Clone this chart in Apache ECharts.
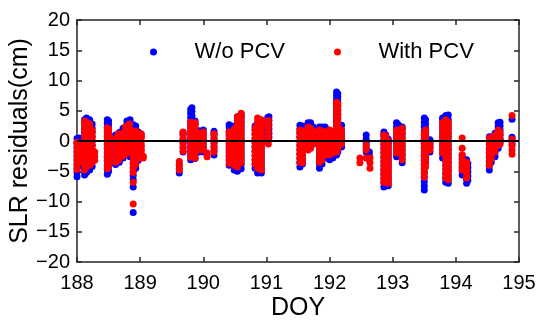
<!DOCTYPE html>
<html><head><meta charset="utf-8">
<script src="https://cdn.jsdelivr.net/npm/echarts@6/dist/echarts.min.js"></script>
<style>html,body{margin:0;padding:0;background:#fff}#c{width:539px;height:320px}</style>
</head><body><div id="c"></div>
<script>
const seriesNames = ['W/o PCV', 'With PCV'];
const xRange = [188, 195];
const yRange = [-20, 20];
const zeroLine = [[188, 0], [195, 0]];

// Each entry: [DOY, residual values (cm) ...]
const blueCols = [
[188.00,-5.9,-5.2,-4.5,-3.8,-3.1,-2.4,-1.7,-1.0,-0.3,0.4],
[188.03,-4.2,-3.5,-2.8,-2.1,-1.4,-0.7,0.0,0.5],
[188.12,-5.6,-4.9,-4.2,-3.5,-2.8,-2.1,-1.4,-0.7,0,0.7,1.4,2.1,2.8,3.5],
[188.15,-5.2,-4.5,-3.8,-3.1,-2.4,-1.7,-1,-0.3,0.4,1.1,1.8,2.5,3.2,3.8],
[188.20,-4.8,-4.1,-3.4,-2.7,-2,-1.3,-0.6,0.1,0.8,1.5,2.2,2.9,3.5],
[188.24,-4.2,-3.5,-2.8,-2.1,-1.4,-0.7,0,0.7,1.4,2.1,2.8],
[188.48,-5.5,-4.8,-4.1,-3.4,-2.7,-2,-1.3,-0.6,0.1,0.8,1.5,2.2,2.9,3.5],
[188.50,-5,-4.3,-3.6,-2.9,-2.2,-1.5,-0.8,-0.1,0.6,1.3,2,2.7,3.3],
[188.61,-3.9,-3.2,-2.5,-1.8,-1.1,-0.4,0.3,1.0],
[188.67,-3.5,-2.8,-2.1,-1.4,-0.7,0,0.7,1.4],
[188.73,-2.8,-2.1,-1.4,-0.7,0,0.7,1.4,2.1],
[188.79,-2.2,-1.5,-0.8,-0.1,0.6,1.3,2,2.7,3.3],
[188.84,-2.6,-1.9,-1.2,-0.5,0.2,0.9,1.6,2.3,3.0,3.5],
[188.89,-11.8,-7.6,-6.4,-5.7,-5,-4.3,-3.6,-2.9,-2.2,-1.5,-0.8,-0.1,0.6,1.3,2,2.7],
[188.93,-4.5,-3.8,-3.1,-2.4,-1.7,-1,-0.3,0.4,1.1,1.8,2.5],
[188.97,-3.2,-2.5,-1.8,-1.1,-0.4,0.3,1.0,1.5],
[189.01,-2.2,-1.5,-0.8,-0.1,0.6,1.2],
[189.62,-5.3,-4.6,-3.9],
[189.68,-1.8,-1.1,-0.4,0.3,1.0,1.4],
[189.80,-3.1,-2.4,-1.7,-1,-0.3,0.4,1.1,1.8,2.5,3.2,3.9,4.6,5.2],
[189.82,-2.8,-2.1,-1.4,-0.7,0,0.7,1.4,2.1,2.8,3.5,4.2,4.9,5.5],
[189.87,-2.9,-2.2,-1.5,-0.8,-0.1,0.6,1.3,2,2.7,3.3],
[189.93,-1.8,-1.1,-0.4,0.3,1,1.7],
[190.00,-1.8,-1.1,-0.4,0.3,1,1.8],
[190.17,-2.3,-1.6,-0.9,-0.2,0.5,1.2,1.6],
[190.41,-4,-3.3,-2.6,-1.9,-1.2,-0.5,0.2,0.9,1.6,2.3,2.7],
[190.45,-3.8,-3.1,-2.4,-1.7,-1,-0.3,0.4,1.1,1.8,2.5],
[190.49,-4.8,-4.1,-3.4,-2.7,-2,-1.3,-0.6,0.1,0.8,1.5,2.0],
[190.54,-5,-4.3,-3.6,-2.9,-2.2,-1.5,-0.8,-0.1,0.6,1.3,2,2.7,3.4,4.0],
[190.60,-4.6,-3.9,-3.2,-2.5,-1.8,-1.1,-0.4,0.3,1,1.7,2.4,3.1,3.8,4.4],
[190.82,-4.5,-3.8,-3.1,-2.4,-1.7,-1,-0.3,0.4,1.1,1.8,2.5],
[190.86,-5.3,-4.6,-3.9,-3.2,-2.5,-1.8,-1.1,-0.4,0.3,1,1.7,2.4],
[190.92,-5.3,-4.6,-3.9,-3.2,-2.5,-1.8,-1.1,-0.4,0.3,1,1.7,2.4,3.1],
[191.02,0.4,1.1,1.8,2.5,3.2,3.9],
[191.04,0.6,1.3,2,2.7,3.4,4.0],
[191.53,-4.3,-3.6,-2.9,-2.2,-1.5,-0.8,-0.1,0.6,1.3,2,2.6],
[191.57,-3.8,-3.1,-2.4,-1.7,-1,-0.3,0.4,1.1,1.8,2.5],
[191.66,-1.2,-0.5,0.2,0.9,1.6,2.3,3.0],
[191.70,-1,-0.3,0.4,1.1,1.8,2.5,3.0],
[191.74,-0.5,0.2,0.9,1.6,2.3],
[191.84,-4.5,-3.8,-3.1,-2.4,-1.7,-1,-0.3,0.4,1.1,1.8,2.3],
[191.88,-3.8,-3.1,-2.4,-1.7,-1,-0.3,0.4,1.1,1.8,2.3],
[191.93,-2.8,-2.1,-1.4,-0.7,0,0.7,1.4,2.1,2.3],
[192.00,-3.1,-2.4,-1.7,-1,-0.3,0.4,1,1.6],
[192.05,-2.8,-2.1,-1.4,-0.7,0,0.7,1.2],
[192.11,-2.3,-1.6,-0.9,-0.2,0.5,1.2,1.9,2.6,3.3,4,4.7,5.4,6.1,6.8,7.5,8.1],
[192.13,-1.8,-1.1,-0.4,0.3,1,1.7,2.4,3.1,3.8,4.5,5.2,5.9,6.6,7.3,7.8],
[192.19,-1,-0.3,0.4,1.1,1.8,2.6],
[192.58,-1.8,-1.1,-0.4,0.3,1.0],
[192.63,-3.1,-2.4,-1.8],
[192.86,-7.6,-6.9,-6.2,-5.5,-4.8,-4.1,-3.4,-2.7,-2,-1.3,-0.6,0.1,0.8,1.5],
[192.89,-7.3,-6.6,-5.9,-5.2,-4.5,-3.8,-3.1,-2.4,-1.7,-1,-0.3,0.4,1.0],
[192.93,-7.4,-6.7,-6,-5.3,-4.6,-3.9,-3.2,-2.5,-1.8,-1.1,-0.4,0.3],
[193.06,-2.6,-1.9,-1.2,-0.5,0.2,0.9,1.6,2.3,3.0],
[193.09,-2.2,-1.5,-0.8,-0.1,0.6,1.3,2,2.7],
[193.15,-3.6,-2.9,-2.2,-1.5,-0.8,-0.1,0.6,1.3,2.0,2.3],
[193.50,-8.1,-7.4,-6.7,-6,-5.3,-4.6,-3.9,-3.2,-2.5,-1.8,-1.1,-0.4,0.3,1,1.7,2.4,3.1,3.8],
[193.52,-3.5,-2.8,-2.1,-1.4,-0.7,0,0.7,1.4,2.1,2.8,3.5],
[193.59,-1.8,-1.1,-0.4,0.2],
[193.79,-2.8,-2.1,-1.4,-0.7,0,0.7,1.4,2.1,2.8,3.5,3.8],
[193.84,-6.8,-6.1,-5.4,-4.7,-4,-3.3,-2.6,-1.9,-1.2,-0.5,0.2,0.9,1.6,2.3,3,3.7,4.2],
[193.88,-7,-6.3,-5.6,-4.9,-4.2,-3.5,-2.8,-2.1,-1.4,-0.7,0,0.7,1.4,2.1,2.8,3.5,4.3],
[194.10,-5.6,-4.9,-4.2,-3.5,-2.8,-2.3],
[194.17,-7,-6.3,-5.6,-4.9,-4.2,-3.5,-3.1],
[194.19,-6.5,-5.8,-5.1,-4.4,-3.7],
[194.53,-4.8,-4.1,-3.4,-2.7,-2,-1.3,-0.6,0.1,0.7],
[194.56,-3.5,-2.8,-2.1,-1.4,-0.7,0,0.6],
[194.62,-2.6,-1.9,-1.2,-0.5,0.2,0.9,1.3],
[194.67,-1.2,-0.5,0.2,0.9,1.6,2.3,3.0],
[194.70,-0.3,0.4,1.1,1.8,2.5,3.1],
[194.89,-0.5,0.2,0.6,3.6]
];

const redCols = [
[188.00,-4.7,-4,-3.3,-2.6,-1.9,-1.2,-0.5,-0.2],
[188.05,-3.5,-2.8,-2.1,-1.4,-0.7],
[188.12,-4.8,-4.1,-3.4,-2.7,-2,-1.3,-0.6,0.1,0.8,1.5,2.2,2.9,3.3],
[188.15,-4.2,-3.5,-2.8,-2.1,-1.4,-0.7,0,0.7,1.4,2.1,2.8,3.1],
[188.20,-4,-3.3,-2.6,-1.9,-1.2,-0.5,0.2,0.9,1.6,2.3,2.8],
[188.24,-3.5,-2.8,-2.1,-1.4,-0.7,0,0.7,1.4,1.8],
[188.28,-3.2,-2.5,-1.8],
[188.48,-4.6,-3.9,-3.2,-2.5,-1.8,-1.1,-0.4,0.3,1,1.7,2.2],
[188.50,-4.2,-3.5,-2.8,-2.1,-1.4,-0.7,0,0.7,1.4,2.0],
[188.61,-3.5,-2.8,-2.1,-1.4,-0.7,0,0.5],
[188.66,-3.2,-2.5,-1.8,-1.1,-0.4,0.3,1.0,1.2],
[188.71,-2.6,-1.9,-1.2,-0.5,0.2,0.9,1.2],
[188.77,-2.2,-1.5,-0.8,-0.1,0.6,1.3,2.0,2.4],
[188.83,-1.8,-1.1,-0.4,0.3,1,1.7,2.4,2.8],
[188.89,-10.4,-6.8,-5.2,-4.5,-3.8,-3.1,-2.4,-1.7,-1,-0.3,0.4,1.1,1.6],
[188.93,-3.8,-3.1,-2.4,-1.7,-1,-0.3,0.4,1.1,1.6],
[188.97,-2.8,-2.1,-1.4,-0.7,0,0.7,1.3],
[189.02,-2.2,-1.5,-0.8,-0.1,0.6,1.1],
[189.05,-2.8,-2.5],
[189.62,-4.8,-4.1,-3.4],
[189.68,-1.7,-1,-0.3,0.4,1.1,1.5],
[189.80,-2.7,-2,-1.3,-0.6,0.1,0.8,1.5,2.2,2.9,3.1],
[189.83,-2.5,-1.8,-1.1,-0.4,0.3,1,1.7,2.4,2.8],
[189.87,-2.8,-2.1,-1.4,-0.7,0,0.7,1.4,2.1,2.8,3.0],
[189.93,-1.5,-0.8,-0.1,0.6,1.3],
[190.00,-1.5,-0.8,-0.1,0.6,1.3,1.5],
[190.06,-2.6,-2.0],
[190.17,-1.8,-1.1,-0.4,0.3,1.0,1.2],
[190.41,-3.7,-3,-2.3,-1.6,-0.9,-0.2,0.5,1.2,1.5],
[190.45,-3.4,-2.7,-2,-1.3,-0.6,0.1,0.8,1.5],
[190.49,-4,-3.3,-2.6,-1.9,-1.2,-0.5,0.2,0.9,1.6,2],
[190.54,-4.3,-3.6,-2.9,-2.2,-1.5,-0.8,-0.1,0.6,1.3,2,2.7,3.4,4.0],
[190.60,-3.6,-2.9,-2.2,-1.5,-0.8,-0.1,0.6,1.3,2,2.7,3.4,4.1,4.6],
[190.82,-3.8,-3.1,-2.4,-1.7,-1,-0.3,0.4,1.1,1.8,2.2],
[190.86,-4.5,-3.8,-3.1,-2.4,-1.7,-1,-0.3,0.4,1.1,1.8,2.5,3.2,3.8],
[190.92,-4.8,-4.1,-3.4,-2.7,-2,-1.3,-0.6,0.1,0.8,1.5,2.2,2.9,3.5],
[191.03,-0.5,0.2,0.9,1.6,2.3,3.0,3.4],
[191.53,-3.5,-2.8,-2.1,-1.4,-0.7,0,0.7,1.4,1.8],
[191.57,-3.6,-2.9,-2.2,-1.5,-0.8,-0.1,0.6,1.3,1.6],
[191.66,-1.5,-0.8,-0.1,0.6,1.3,2.0,2.3],
[191.70,-1.2,-0.5,0.2,0.9,1.6,2.1],
[191.74,-0.5,0.2,0.9,1.6],
[191.84,-3.5,-2.8,-2.1,-1.4,-0.7,0,0.7,1.4,1.8],
[191.88,-3.2,-2.5,-1.8,-1.1,-0.4,0.3,1,1.6],
[191.93,-2.3,-1.6,-0.9,-0.2,0.5,1.2,1.5],
[192.00,-2.3,-1.6,-0.9,-0.2,0.5,1.2,1.8],
[192.05,-2,-1.3,-0.6,0.1,0.8,1.5],
[192.11,-1.8,-1.1,-0.4,0.3,1,1.7,2.4,3.1,3.8,4.5,5.2,5.9,6.4],
[192.13,-1.3,-0.6,0.1,0.8,1.5,2.2,2.9,3.6,4.3,5,5.7,6.2],
[192.19,-0.5,0.2,0.9,1.8],
[192.48,-2.8,-3.6],
[192.58,-0.7,-1.5,-2.8],
[192.64,-2.8,-3.6,-4.5],
[192.86,-6.8,-6.1,-5.4,-4.7,-4,-3.3,-2.6,-1.9,-1.2,-0.5,0.2,0.9,1.0],
[192.89,-6.6,-5.9,-5.2,-4.5,-3.8,-3.1,-2.4,-1.7,-1,-0.3,0.4,0.8],
[192.93,-7,-6.3,-5.6,-4.9,-4.2,-3.5,-2.8,-2.1,-1.4,-0.7,0],
[193.06,-2,-1.3,-0.6,0.1,0.8,1.5,1.8],
[193.09,-1.8,-1.1,-0.4,0.3,1,1.6],
[193.15,-3.1,-2.4,-1.7,-1,-0.3,0.4,1.1,1.8,2.1],
[193.50,-6,-5.3,-4.6,-3.9,-3.2,-2.5,-1.8,-1.1,-0.4,0.3,1,1.5],
[193.52,-4.3,-3.6,-2.9,-2.2,-1.5,-0.8,-0.1,0.6,1.3,1.8],
[193.59,-1.5,-0.8,-0.5],
[193.79,-2,-1.3,-0.6,0.1,0.8,1.5,2.2,2.9,3.0],
[193.84,-6.1,-5.4,-4.7,-4,-3.3,-2.6,-1.9,-1.2,-0.5,0.2,0.9,1.6,2.3,3,3.5],
[193.88,-6.4,-5.7,-5,-4.3,-3.6,-2.9,-2.2,-1.5,-0.8,-0.1,0.6,1.3,2,2.7,3.1],
[194.10,0.5,-1.2,-2.3,-3,-3.7,-4.4,-4.8],
[194.17,-3.5,-4.2,-4.9,-5.6,-6.1],
[194.53,-4,-3.3,-2.6,-1.9,-1.2,-0.5,0.2,0.5],
[194.56,-3,-2.3,-1.6,-0.9,-0.2,0.4],
[194.62,-1.8,-1.1,-0.4,0.3,1.0],
[194.67,-0.7,0,0.7,1.4,1.8],
[194.70,-0.5,0.2,0.9,1.5],
[194.89,-2.2,-1.5,-0.8,-0.1,0.3,4.2]
];

function toPoints(cols) {
  const pts = [];
  cols.forEach(c => { for (let i = 1; i < c.length; i++) pts.push([c[0], c[i]]); });
  return pts;
}

const FONT = '"Liberation Sans", Arial, sans-serif';
const AX = '#262626';
const chart = echarts.init(document.getElementById('c'), null, {renderer: 'canvas'});
const minusFmt = v => String(v).replace('-', '\u2212');

chart.setOption({
  animation: false,
  backgroundColor: '#fff',
  grid: {left: 77, right: 20, top: 20, bottom: 58, containLabel: false, outerBoundsMode: 'none'},
  legend: {
    data: seriesNames.map(n => ({name: n, icon: 'circle'})),
    left: 150, top: 41, padding: 0,
    itemWidth: 72, itemHeight: 7, itemGap: 49,
    textStyle: {fontFamily: FONT, fontSize: 22, color: '#000'}
  },
  xAxis: [{
    type: 'value', min: xRange[0], max: xRange[1], interval: 1,
    name: 'DOY', nameLocation: 'middle', nameGap: 34, nameMoveOverlap: false,
    nameTextStyle: {fontFamily: FONT, fontSize: 25, color: '#000'},
    axisLine: {show: true, onZero: false, lineStyle: {color: AX, width: 1.5}},
    axisTick: {show: true, inside: true, length: 5, lineStyle: {color: AX, width: 1.5}},
    axisLabel: {margin: 11, fontFamily: FONT, fontSize: 20, color: '#000'},
    splitLine: {show: false}
  }, {
    type: 'value', position: 'top', min: xRange[0], max: xRange[1], interval: 1,
    axisLine: {show: true, onZero: false, lineStyle: {color: AX, width: 1.5}},
    axisTick: {show: true, inside: true, length: 5, lineStyle: {color: AX, width: 1.5}},
    axisLabel: {show: false}, splitLine: {show: false}
  }],
  yAxis: [{
    type: 'value', min: yRange[0], max: yRange[1], interval: 5,
    name: 'SLR residuals(cm)', nameLocation: 'middle', nameGap: 44, nameMoveOverlap: false,
    nameTextStyle: {fontFamily: FONT, fontSize: 25, color: '#000'},
    axisLine: {show: true, onZero: false, lineStyle: {color: AX, width: 1.5}},
    axisTick: {show: true, inside: true, length: 5, lineStyle: {color: AX, width: 1.5}},
    axisLabel: {margin: 7, fontFamily: FONT, fontSize: 20, color: '#000', formatter: minusFmt},
    splitLine: {show: false}
  }, {
    type: 'value', position: 'right', min: yRange[0], max: yRange[1], interval: 5,
    axisLine: {show: true, onZero: false, lineStyle: {color: AX, width: 1.5}},
    axisTick: {show: true, inside: true, length: 5, lineStyle: {color: AX, width: 1.5}},
    axisLabel: {show: false}, splitLine: {show: false}
  }],
  series: [{
    name: seriesNames[0], type: 'scatter', symbol: 'circle', symbolSize: 7,
    itemStyle: {color: '#0000ff', opacity: 1}, data: toPoints(blueCols), z: 2
  }, {
    name: seriesNames[1], type: 'scatter', symbol: 'circle', symbolSize: 7,
    itemStyle: {color: '#ff0000', opacity: 1}, data: toPoints(redCols), z: 3
  }, {
    name: 'zero', type: 'line', data: zeroLine, symbol: 'none', silent: true,
    lineStyle: {color: '#000', width: 2}, z: 4
  }]
});
</script></body></html>
